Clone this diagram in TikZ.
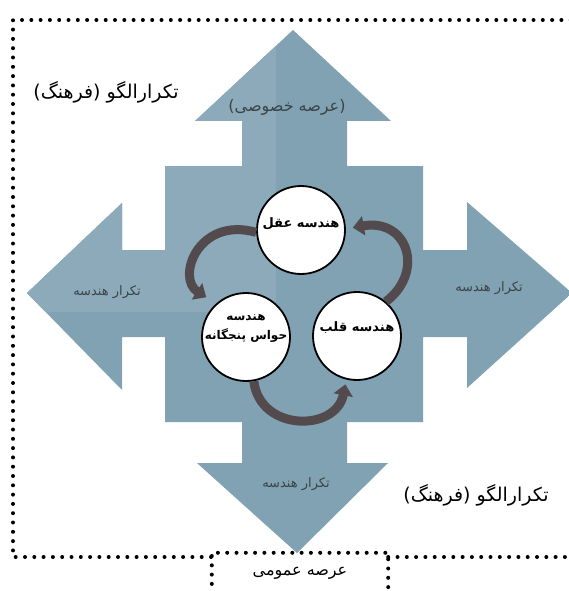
\documentclass[tikz,border=0pt]{standalone}
\usepackage{fontspec}
\usetikzlibrary{arrows.meta}
\newfontfamily\arabicfont[Script=Arabic]{DejaVu Sans}
\TeXXeTstate=1
\definecolor{shapeblue}{HTML}{80A2B2}
\definecolor{shapelight}{HTML}{8CAAB9}
\definecolor{arcgray}{HTML}{524A4C}
\definecolor{labgray}{HTML}{3C4448}
\tikzset{
  dotline/.style={line width=4pt, dash pattern=on 0pt off 9.3pt, line cap=round, black},
  circ/.style={circle, draw=black, line width=1.8pt, fill=white, minimum size=88pt, inner sep=0pt},
  circtext/.style={align=center, inner sep=0pt, font=\arabicfont\bfseries\fontsize{13}{19}\selectfont},
  cyc/.style={line width=9pt, draw=arcgray, -{Triangle[width=19pt,length=11pt]}},
  armlabel/.style={font=\arabicfont\fontsize{13}{15}\selectfont, text=labgray},
  biglabel/.style={font=\arabicfont\fontsize{19}{22}\selectfont, text=black},
}
\begin{document}
\begin{tikzpicture}[x=1pt,y=-1pt]
\useasboundingbox (0,0) rectangle (569,591);
\fill[white] (0,0) rectangle (569,591);
% cross-shaped arrows
\begin{scope}
\path[clip] (293,30) -- (391,121) -- (347,121) -- (347,166) -- (423,166) -- (423,250) -- (467,250) -- (467,202) -- (572,293) -- (467,388) -- (467,337) -- (423,337) -- (423,422) -- (347,422) -- (347,463) -- (388,463) -- (297,553) -- (197,463) -- (242,463) -- (242,422) -- (165,422) -- (165,337) -- (122,337) -- (122,390) -- (27,293) -- (122,203) -- (122,250) -- (165,250) -- (165,166) -- (242,166) -- (242,121) -- (195,121) -- cycle;
\fill[shapeblue] (0,0) rectangle (600,600);
\fill[shapelight] (0,0) rectangle (276,312);
\end{scope}
% labels
\node[biglabel] (tl) at (106,92) {\beginR تکرارالگو (فرهنگ)\endR};
\node[biglabel] (br) at (476,495) {\beginR تکرارالگو (فرهنگ)\endR};
\node[font=\arabicfont\fontsize{16}{18}\selectfont, text=labgray] (priv) at (287,107) {\beginR (عرصه خصوصی)\endR};
\node[armlabel] (la) at (107,292) {\beginR تکرار هندسه\endR};
\node[armlabel] (ra) at (489,288) {\beginR تکرار هندسه\endR};
\node[armlabel] (ba) at (296,484) {\beginR تکرار هندسه\endR};
% circles
\node[circ] (t) at (301,230) {};
\node[circ] (bl) at (246,337) {};
\node[circ] (bre) at (357,336) {};
\node[circtext] (tt) at (301,224) {\beginR هندسه عقل\endR};
\node[circtext, font=\arabicfont\bfseries\fontsize{12}{19}\selectfont] (blt) at (246,328) {\beginR هندسه\endR\\\beginR حواس پنجگانه\endR};
\node[circtext] (brt) at (357,328) {\beginR هندسه قلب\endR};
% cycle arrows
\draw[cyc] (t.183) .. controls (198,216) and (176,278) .. ([xshift=-8pt,yshift=8pt]bl.135);
\draw[cyc] (bre.50) .. controls (425,272) and (408,218) .. ([xshift=7pt]t.3);
\draw[cyc] (bl.-80) .. controls (260,432) and (336,432) .. ([yshift=-5pt]bre.-105);
% dotted frame
\node[draw=none, minimum width=176pt, minimum height=40pt, inner sep=0pt, font=\arabicfont\fontsize{16}{18}\selectfont] (pub) at (300,573) {\beginR عرصه عمومی\endR};
\coordinate (c1) at (13,20);
\coordinate (c2) at (580,20);
\coordinate (c3) at (13,557);
\coordinate (c4) at (580,557);
\draw[dotline] (c2) -- (c1) -- (c3) -- (c3 -| pub.west);
\draw[dotline] (c4 -| pub.east) -- (c4);
\draw[dotline] (pub.south west) -- (pub.north west) -- (pub.north east) -- (pub.south east);
\end{tikzpicture}
\end{document}
